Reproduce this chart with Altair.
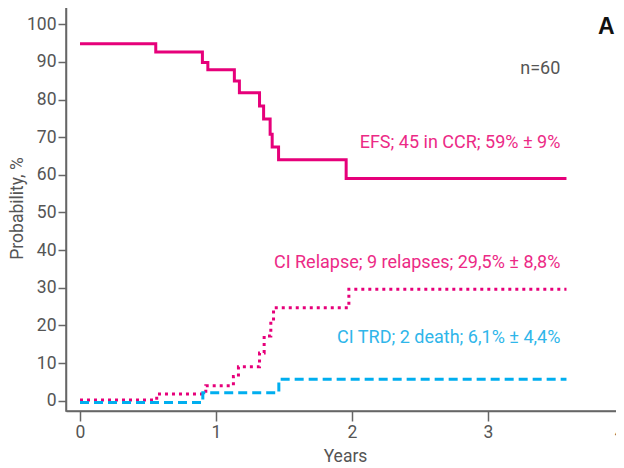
import altair as alt
import pandas as pd

# Event-free survival (Kaplan-Meier) step curve
efs_t = [0, 0.557, 0.90, 0.94, 1.135, 1.172, 1.32, 1.35, 1.398, 1.413, 1.46, 1.957, 3.577]
efs_v = [94.8, 92.6, 89.8, 87.9, 84.9, 81.8, 78.3, 74.8, 70.8, 67.4, 64.0, 59.0, 59.0]

# Cumulative incidence of relapse
rel_t = [0, 0.564, 0.925, 1.128, 1.165, 1.32, 1.354, 1.403, 1.423, 1.977, 3.577]
rel_v = [0.2, 1.8, 4.0, 6.4, 9.0, 12.7, 17.2, 21.0, 24.7, 29.6, 29.6]

# Cumulative incidence of treatment-related death
trd_t = [0, 0.903, 1.462, 3.577]
trd_v = [-0.5, 2.1, 5.7, 5.7]

label_text = ["n=60", "EFS; 45 in CCR; 59% ± 9%", "CI Relapse; 9 relapses; 29,5% ± 8,8%", "CI TRD; 2 death; 6,1% ± 4,4%"]
label_x = [3.532, 3.532, 3.532, 3.532]
label_y = [88.1, 68.4, 36.6, 16.6]
label_color = ["#555555", "#EC2A86", "#EC2A86", "#2FB6EA"]

x_ticks = [0, 1, 2, 3, 4]
y_ticks = [0, 10, 20, 30, 40, 50, 60, 70, 80, 90, 100]

PINK = "#E6007A"
BLUE = "#00AEEF"
FONT = "Roboto"

xs = alt.Scale(domain=[-0.103, 4.0], nice=False, zero=False)
ys = alt.Scale(domain=[-2.73, 105.1], nice=False, zero=False)

x_axis = alt.Axis(values=x_ticks, title="Years", grid=False, tickSize=10, labelFontSize=17.5,
                  titleFontSize=17.5, labelPadding=2, titleY=45, titleBaseline="middle", format="d")
y_axis = alt.Axis(values=y_ticks, title="Probability, %", grid=False, tickSize=8, labelFontSize=17.5,
                  titleFontSize=17.5, labelPadding=2, titleX=-49, titleY=203, titleAngle=270,
                  titleAlign="center", titleBaseline="middle", format="d")

efs = pd.DataFrame({"t": efs_t, "v": efs_v})
rel = pd.DataFrame({"t": rel_t, "v": rel_v})
trd = pd.DataFrame({"t": trd_t, "v": trd_v})
labels = pd.DataFrame({"x": label_x, "y": label_y, "text": label_text, "color": label_color})
panel = pd.DataFrame({"x": [3.87], "y": [99.2], "text": ["A"]})

efs_line = alt.Chart(efs).mark_line(interpolate="step-after", color=PINK, strokeWidth=3).encode(
    x=alt.X("t:Q", scale=xs, axis=x_axis), y=alt.Y("v:Q", scale=ys, axis=y_axis))
rel_line = alt.Chart(rel).mark_line(interpolate="step-after", color=PINK, strokeWidth=3,
                                    strokeDash=[3, 4]).encode(x=alt.X("t:Q", scale=xs), y=alt.Y("v:Q", scale=ys))
trd_line = alt.Chart(trd).mark_line(interpolate="step-after", color=BLUE, strokeWidth=3,
                                    strokeDash=[9, 5]).encode(x=alt.X("t:Q", scale=xs), y=alt.Y("v:Q", scale=ys))

txt = alt.Chart(labels).mark_text(align="right", baseline="middle", fontSize=18, font=FONT).encode(
    x=alt.X("x:Q", scale=xs), y=alt.Y("y:Q", scale=ys), text="text:N",
    color=alt.Color("color:N", scale=None))
ptxt = alt.Chart(panel).mark_text(align="center", baseline="middle", fontSize=23, fontWeight="bold",
                                  font="Liberation Sans", color="#111111").encode(
    x=alt.X("x:Q", scale=xs), y=alt.Y("y:Q", scale=ys), text="text:N")

chart = alt.layer(efs_line, rel_line, trd_line, txt, ptxt).properties(
    width=558, height=406,
    autosize=alt.AutoSizeParams(type="none"),
    padding={"left": 58, "top": -3, "right": -8, "bottom": 56},
).configure_view(stroke="#666666", strokeWidth=1.5).configure_axis(
    domainColor="#666666", domainWidth=1.5, tickColor="#666666", tickWidth=1.5,
    labelColor="#555555", titleColor="#555555", labelFont=FONT, titleFont=FONT,
    titleFontWeight="normal")

chart.save("out.html", embed_options={"renderer": "svg", "actions": False})
